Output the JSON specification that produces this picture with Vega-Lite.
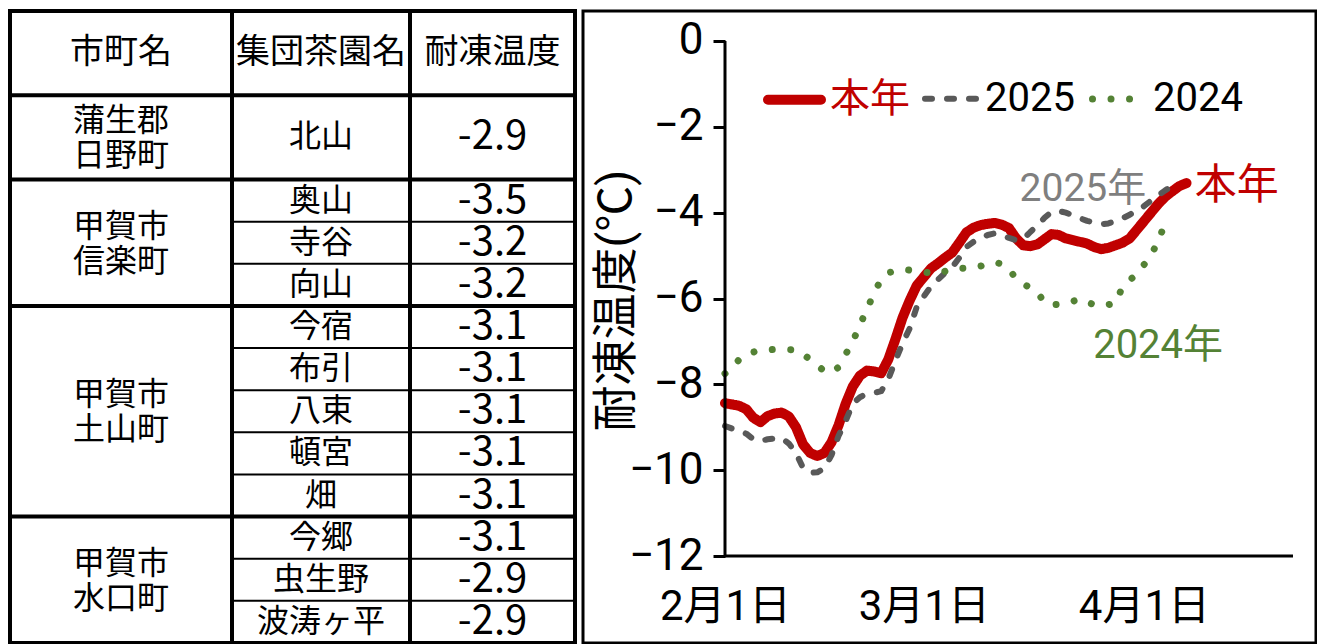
{
  "$schema": "https://vega.github.io/schema/vega-lite/v6.json",
  "padding": {"left": 6, "top": 7, "right": 0, "bottom": 0},
  "spacing": 2,
  "background": "white",
  "config": {
    "view": {"stroke": null},
    "axis": {"grid": false, "labelColor": "#000000", "tickColor": "#000000", "titleColor": "#000000"}
  },
  "datasets": {
    "table": [
      {"col": "市町名", "label": "市町名", "r0": 0, "r1": 2},
      {"col": "市町名", "label": "蒲生郡\n日野町", "r0": 2, "r1": 4},
      {"col": "市町名", "label": "甲賀市\n信楽町", "r0": 4, "r1": 7},
      {"col": "市町名", "label": "甲賀市\n土山町", "r0": 7, "r1": 12},
      {"col": "市町名", "label": "甲賀市\n水口町", "r0": 12, "r1": 15},
      {"col": "集団茶園名", "label": "集団茶園名", "r0": 0, "r1": 2},
      {"col": "集団茶園名", "label": "北山", "r0": 2, "r1": 4},
      {"col": "集団茶園名", "label": "奥山", "r0": 4, "r1": 5},
      {"col": "集団茶園名", "label": "寺谷", "r0": 5, "r1": 6},
      {"col": "集団茶園名", "label": "向山", "r0": 6, "r1": 7},
      {"col": "集団茶園名", "label": "今宿", "r0": 7, "r1": 8},
      {"col": "集団茶園名", "label": "布引", "r0": 8, "r1": 9},
      {"col": "集団茶園名", "label": "八束", "r0": 9, "r1": 10},
      {"col": "集団茶園名", "label": "頓宮", "r0": 10, "r1": 11},
      {"col": "集団茶園名", "label": "畑", "r0": 11, "r1": 12},
      {"col": "集団茶園名", "label": "今郷", "r0": 12, "r1": 13},
      {"col": "集団茶園名", "label": "虫生野", "r0": 13, "r1": 14},
      {"col": "集団茶園名", "label": "波涛ヶ平", "r0": 14, "r1": 15},
      {"col": "耐凍温度", "label": "耐凍温度", "r0": 0, "r1": 2},
      {"col": "耐凍温度", "label": "-2.9", "r0": 2, "r1": 4},
      {"col": "耐凍温度", "label": "-3.5", "r0": 4, "r1": 5},
      {"col": "耐凍温度", "label": "-3.2", "r0": 5, "r1": 6},
      {"col": "耐凍温度", "label": "-3.2", "r0": 6, "r1": 7},
      {"col": "耐凍温度", "label": "-3.1", "r0": 7, "r1": 8},
      {"col": "耐凍温度", "label": "-3.1", "r0": 8, "r1": 9},
      {"col": "耐凍温度", "label": "-3.1", "r0": 9, "r1": 10},
      {"col": "耐凍温度", "label": "-3.1", "r0": 10, "r1": 11},
      {"col": "耐凍温度", "label": "-3.1", "r0": 11, "r1": 12},
      {"col": "耐凍温度", "label": "-3.1", "r0": 12, "r1": 13},
      {"col": "耐凍温度", "label": "-2.9", "r0": 13, "r1": 14},
      {"col": "耐凍温度", "label": "-2.9", "r0": 14, "r1": 15}
    ],
    "lines": [
      {"series": "本年", "date": "2026-02-01T00:00", "value": -8.44},
      {"series": "本年", "date": "2026-02-02T00:00", "value": -8.47},
      {"series": "本年", "date": "2026-02-03T00:00", "value": -8.5},
      {"series": "本年", "date": "2026-02-04T00:00", "value": -8.58},
      {"series": "本年", "date": "2026-02-05T00:00", "value": -8.78},
      {"series": "本年", "date": "2026-02-06T00:00", "value": -8.88},
      {"series": "本年", "date": "2026-02-07T00:00", "value": -8.74},
      {"series": "本年", "date": "2026-02-08T00:00", "value": -8.68},
      {"series": "本年", "date": "2026-02-09T00:00", "value": -8.66},
      {"series": "本年", "date": "2026-02-10T00:00", "value": -8.75},
      {"series": "本年", "date": "2026-02-11T00:00", "value": -9.0},
      {"series": "本年", "date": "2026-02-12T00:00", "value": -9.4},
      {"series": "本年", "date": "2026-02-13T00:00", "value": -9.6},
      {"series": "本年", "date": "2026-02-14T00:00", "value": -9.67},
      {"series": "本年", "date": "2026-02-15T00:00", "value": -9.6},
      {"series": "本年", "date": "2026-02-16T00:00", "value": -9.35},
      {"series": "本年", "date": "2026-02-17T00:00", "value": -8.95},
      {"series": "本年", "date": "2026-02-18T00:00", "value": -8.45},
      {"series": "本年", "date": "2026-02-19T00:00", "value": -8.05},
      {"series": "本年", "date": "2026-02-20T00:00", "value": -7.8},
      {"series": "本年", "date": "2026-02-21T00:00", "value": -7.68},
      {"series": "本年", "date": "2026-02-22T00:00", "value": -7.7},
      {"series": "本年", "date": "2026-02-23T00:00", "value": -7.74},
      {"series": "本年", "date": "2026-02-24T00:00", "value": -7.42},
      {"series": "本年", "date": "2026-02-25T00:00", "value": -6.95},
      {"series": "本年", "date": "2026-02-26T00:00", "value": -6.45},
      {"series": "本年", "date": "2026-02-27T00:00", "value": -6.05},
      {"series": "本年", "date": "2026-02-28T00:00", "value": -5.7},
      {"series": "本年", "date": "2026-03-01T00:00", "value": -5.5},
      {"series": "本年", "date": "2026-03-02T00:00", "value": -5.3},
      {"series": "本年", "date": "2026-03-03T00:00", "value": -5.18},
      {"series": "本年", "date": "2026-03-04T00:00", "value": -5.05},
      {"series": "本年", "date": "2026-03-05T00:00", "value": -4.93},
      {"series": "本年", "date": "2026-03-06T00:00", "value": -4.7},
      {"series": "本年", "date": "2026-03-07T00:00", "value": -4.46},
      {"series": "本年", "date": "2026-03-08T00:00", "value": -4.35},
      {"series": "本年", "date": "2026-03-09T00:00", "value": -4.29},
      {"series": "本年", "date": "2026-03-10T00:00", "value": -4.26},
      {"series": "本年", "date": "2026-03-11T00:00", "value": -4.24},
      {"series": "本年", "date": "2026-03-12T00:00", "value": -4.28},
      {"series": "本年", "date": "2026-03-13T00:00", "value": -4.36},
      {"series": "本年", "date": "2026-03-14T00:00", "value": -4.6},
      {"series": "本年", "date": "2026-03-15T00:00", "value": -4.76},
      {"series": "本年", "date": "2026-03-16T00:00", "value": -4.78},
      {"series": "本年", "date": "2026-03-17T00:00", "value": -4.74},
      {"series": "本年", "date": "2026-03-18T00:00", "value": -4.62},
      {"series": "本年", "date": "2026-03-19T00:00", "value": -4.5},
      {"series": "本年", "date": "2026-03-20T00:00", "value": -4.52},
      {"series": "本年", "date": "2026-03-21T00:00", "value": -4.6},
      {"series": "本年", "date": "2026-03-22T00:00", "value": -4.64},
      {"series": "本年", "date": "2026-03-23T00:00", "value": -4.68},
      {"series": "本年", "date": "2026-03-24T00:00", "value": -4.72},
      {"series": "本年", "date": "2026-03-25T00:00", "value": -4.8},
      {"series": "本年", "date": "2026-03-26T00:00", "value": -4.85},
      {"series": "本年", "date": "2026-03-27T00:00", "value": -4.82},
      {"series": "本年", "date": "2026-03-28T00:00", "value": -4.76},
      {"series": "本年", "date": "2026-03-29T00:00", "value": -4.7},
      {"series": "本年", "date": "2026-03-30T00:00", "value": -4.6},
      {"series": "本年", "date": "2026-03-31T00:00", "value": -4.4},
      {"series": "本年", "date": "2026-04-01T00:00", "value": -4.2},
      {"series": "本年", "date": "2026-04-02T00:00", "value": -4.0},
      {"series": "本年", "date": "2026-04-03T00:00", "value": -3.8},
      {"series": "本年", "date": "2026-04-04T00:00", "value": -3.63},
      {"series": "本年", "date": "2026-04-05T00:00", "value": -3.5},
      {"series": "本年", "date": "2026-04-06T00:00", "value": -3.38},
      {"series": "本年", "date": "2026-04-07T00:00", "value": -3.31},
      {"series": "2025", "date": "2026-02-01T00:00", "value": -8.97},
      {"series": "2025", "date": "2026-02-02T00:00", "value": -9.03},
      {"series": "2025", "date": "2026-02-03T00:00", "value": -9.08},
      {"series": "2025", "date": "2026-02-04T00:00", "value": -9.15},
      {"series": "2025", "date": "2026-02-05T00:00", "value": -9.28},
      {"series": "2025", "date": "2026-02-06T00:00", "value": -9.32},
      {"series": "2025", "date": "2026-02-07T00:00", "value": -9.28},
      {"series": "2025", "date": "2026-02-08T00:00", "value": -9.26},
      {"series": "2025", "date": "2026-02-09T00:00", "value": -9.25},
      {"series": "2025", "date": "2026-02-10T00:00", "value": -9.38},
      {"series": "2025", "date": "2026-02-11T00:00", "value": -9.6},
      {"series": "2025", "date": "2026-02-12T00:00", "value": -9.95},
      {"series": "2025", "date": "2026-02-13T00:00", "value": -10.06},
      {"series": "2025", "date": "2026-02-14T00:00", "value": -10.05},
      {"series": "2025", "date": "2026-02-15T00:00", "value": -9.96},
      {"series": "2025", "date": "2026-02-16T00:00", "value": -9.65},
      {"series": "2025", "date": "2026-02-17T00:00", "value": -9.2},
      {"series": "2025", "date": "2026-02-18T00:00", "value": -8.85},
      {"series": "2025", "date": "2026-02-19T00:00", "value": -8.45},
      {"series": "2025", "date": "2026-02-20T00:00", "value": -8.3},
      {"series": "2025", "date": "2026-02-21T00:00", "value": -8.22},
      {"series": "2025", "date": "2026-02-22T00:00", "value": -8.2},
      {"series": "2025", "date": "2026-02-23T00:00", "value": -8.16},
      {"series": "2025", "date": "2026-02-24T00:00", "value": -7.88},
      {"series": "2025", "date": "2026-02-25T00:00", "value": -7.45},
      {"series": "2025", "date": "2026-02-26T00:00", "value": -7.05},
      {"series": "2025", "date": "2026-02-27T00:00", "value": -6.7},
      {"series": "2025", "date": "2026-02-28T00:00", "value": -6.2},
      {"series": "2025", "date": "2026-03-01T00:00", "value": -5.95},
      {"series": "2025", "date": "2026-03-02T00:00", "value": -5.72},
      {"series": "2025", "date": "2026-03-03T00:00", "value": -5.56},
      {"series": "2025", "date": "2026-03-04T00:00", "value": -5.4},
      {"series": "2025", "date": "2026-03-05T00:00", "value": -5.27},
      {"series": "2025", "date": "2026-03-06T00:00", "value": -5.05},
      {"series": "2025", "date": "2026-03-07T00:00", "value": -4.8},
      {"series": "2025", "date": "2026-03-08T00:00", "value": -4.68},
      {"series": "2025", "date": "2026-03-09T00:00", "value": -4.6},
      {"series": "2025", "date": "2026-03-10T00:00", "value": -4.52},
      {"series": "2025", "date": "2026-03-11T00:00", "value": -4.48},
      {"series": "2025", "date": "2026-03-12T00:00", "value": -4.53},
      {"series": "2025", "date": "2026-03-13T00:00", "value": -4.59},
      {"series": "2025", "date": "2026-03-14T00:00", "value": -4.64},
      {"series": "2025", "date": "2026-03-15T00:00", "value": -4.62},
      {"series": "2025", "date": "2026-03-16T00:00", "value": -4.45},
      {"series": "2025", "date": "2026-03-17T00:00", "value": -4.3},
      {"series": "2025", "date": "2026-03-18T00:00", "value": -4.12},
      {"series": "2025", "date": "2026-03-19T00:00", "value": -3.98},
      {"series": "2025", "date": "2026-03-20T00:00", "value": -3.96},
      {"series": "2025", "date": "2026-03-21T00:00", "value": -4.0},
      {"series": "2025", "date": "2026-03-22T00:00", "value": -4.06},
      {"series": "2025", "date": "2026-03-23T00:00", "value": -4.13},
      {"series": "2025", "date": "2026-03-24T00:00", "value": -4.19},
      {"series": "2025", "date": "2026-03-25T00:00", "value": -4.23},
      {"series": "2025", "date": "2026-03-26T00:00", "value": -4.27},
      {"series": "2025", "date": "2026-03-27T00:00", "value": -4.25},
      {"series": "2025", "date": "2026-03-28T00:00", "value": -4.2},
      {"series": "2025", "date": "2026-03-29T00:00", "value": -4.13},
      {"series": "2025", "date": "2026-03-30T00:00", "value": -4.05},
      {"series": "2025", "date": "2026-03-31T00:00", "value": -3.94},
      {"series": "2025", "date": "2026-04-01T00:00", "value": -3.85},
      {"series": "2025", "date": "2026-04-02T00:00", "value": -3.72},
      {"series": "2025", "date": "2026-04-03T00:00", "value": -3.6},
      {"series": "2025", "date": "2026-04-04T00:00", "value": -3.48},
      {"series": "2025", "date": "2026-04-05T00:00", "value": -3.38},
      {"series": "2025", "date": "2026-04-06T00:00", "value": -3.31},
      {"series": "2024", "date": "2026-02-01T00:00", "value": -7.75},
      {"series": "2024", "date": "2026-02-02T00:00", "value": -7.62},
      {"series": "2024", "date": "2026-02-03T00:00", "value": -7.42},
      {"series": "2024", "date": "2026-02-04T00:00", "value": -7.3},
      {"series": "2024", "date": "2026-02-06T00:00", "value": -7.2},
      {"series": "2024", "date": "2026-02-09T00:00", "value": -7.18},
      {"series": "2024", "date": "2026-02-11T00:00", "value": -7.2},
      {"series": "2024", "date": "2026-02-12T00:00", "value": -7.3},
      {"series": "2024", "date": "2026-02-13T00:00", "value": -7.42},
      {"series": "2024", "date": "2026-02-14T00:00", "value": -7.55},
      {"series": "2024", "date": "2026-02-15T00:00", "value": -7.7},
      {"series": "2024", "date": "2026-02-16T00:00", "value": -7.72},
      {"series": "2024", "date": "2026-02-17T00:00", "value": -7.6},
      {"series": "2024", "date": "2026-02-18T00:00", "value": -7.3},
      {"series": "2024", "date": "2026-02-19T00:00", "value": -7.0},
      {"series": "2024", "date": "2026-02-20T00:00", "value": -6.62},
      {"series": "2024", "date": "2026-02-21T00:00", "value": -6.25},
      {"series": "2024", "date": "2026-02-22T00:00", "value": -5.87},
      {"series": "2024", "date": "2026-02-23T00:00", "value": -5.55},
      {"series": "2024", "date": "2026-02-24T00:00", "value": -5.4},
      {"series": "2024", "date": "2026-02-26T00:00", "value": -5.32},
      {"series": "2024", "date": "2026-02-28T00:00", "value": -5.36},
      {"series": "2024", "date": "2026-03-03T00:00", "value": -5.43},
      {"series": "2024", "date": "2026-03-05T00:00", "value": -5.3},
      {"series": "2024", "date": "2026-03-08T00:00", "value": -5.29},
      {"series": "2024", "date": "2026-03-10T00:00", "value": -5.2},
      {"series": "2024", "date": "2026-03-11T00:00", "value": -5.15},
      {"series": "2024", "date": "2026-03-12T00:00", "value": -5.2},
      {"series": "2024", "date": "2026-03-13T00:00", "value": -5.3},
      {"series": "2024", "date": "2026-03-14T00:00", "value": -5.55},
      {"series": "2024", "date": "2026-03-15T00:00", "value": -5.66},
      {"series": "2024", "date": "2026-03-16T00:00", "value": -5.75},
      {"series": "2024", "date": "2026-03-17T00:00", "value": -5.85},
      {"series": "2024", "date": "2026-03-18T00:00", "value": -6.1},
      {"series": "2024", "date": "2026-03-19T00:00", "value": -6.15},
      {"series": "2024", "date": "2026-03-21T00:00", "value": -6.12},
      {"series": "2024", "date": "2026-03-23T00:00", "value": -6.01},
      {"series": "2024", "date": "2026-03-25T00:00", "value": -6.15},
      {"series": "2024", "date": "2026-03-26T00:00", "value": -6.18},
      {"series": "2024", "date": "2026-03-28T00:00", "value": -6.11},
      {"series": "2024", "date": "2026-03-29T00:00", "value": -5.72},
      {"series": "2024", "date": "2026-03-31T00:00", "value": -5.43},
      {"series": "2024", "date": "2026-04-02T00:00", "value": -5.0},
      {"series": "2024", "date": "2026-04-03T00:00", "value": -4.66},
      {"series": "2024", "date": "2026-04-04T00:00", "value": -4.25}
    ],
    "notes": [
      {"series": "2025", "label": "2025年", "date": "2026-03-23T10:00", "value": -3.45},
      {"series": "本年", "label": "本年", "date": "2026-04-14T02:00", "value": -3.38},
      {"series": "2024", "label": "2024年", "date": "2026-04-03T00:00", "value": -7.11}
    ]
  },
  "hconcat": [
    {
      "bounds": "flush",
      "spacing": 0,
      "hconcat": [
        {
          "width": 222,
          "height": 632,
          "view": {"stroke": "#000000", "strokeWidth": 4},
          "data": {"name": "table"},
          "layer": [
            {
              "transform": [{"filter": "datum.col === '市町名'"}],
              "mark": {"type": "rule", "color": "#000000", "strokeWidth": 4},
              "encoding": {"y": {"field": "r0", "type": "quantitative", "scale": {"domain": [0, 15], "reverse": true, "nice": false, "zero": false}, "axis": null}}
            },
            {
              "transform": [{"filter": "datum.col === '市町名' && datum.r0 === 0"}, {"fold": ["r0", "r1"], "as": ["edge", "pos"]}],
              "mark": {"type": "text", "font": "Noto Sans CJK JP", "fontSize": 34, "color": "#000000", "baseline": "middle", "align": "center"},
              "encoding": {
                "y": {"field": "pos", "aggregate": "mean", "type": "quantitative", "scale": {"domain": [0, 15], "reverse": true, "nice": false, "zero": false}, "axis": null},
                "text": {"field": "label", "type": "nominal"},
                "detail": {"field": "r0", "type": "quantitative"}
              }
            },
            {
              "transform": [{"filter": "datum.col === '市町名' && datum.r0 > 0"}, {"fold": ["r0", "r1"], "as": ["edge", "pos"]}],
              "mark": {"type": "text", "font": "Noto Sans CJK JP", "fontSize": 32, "lineHeight": 35, "lineBreak": "\n", "color": "#000000", "baseline": "middle", "align": "center", "dy": -16},
              "encoding": {
                "y": {"field": "pos", "aggregate": "mean", "type": "quantitative", "scale": {"domain": [0, 15], "reverse": true, "nice": false, "zero": false}, "axis": null},
                "text": {"field": "label", "type": "nominal"},
                "detail": {"field": "r0", "type": "quantitative"}
              }
            }
          ]
        },
        {
          "width": 178,
          "height": 632,
          "view": {"stroke": "#000000", "strokeWidth": 4},
          "data": {"name": "table"},
          "layer": [
            {
              "transform": [{"filter": "datum.col === '集団茶園名'"}],
              "mark": {"type": "rule", "color": "#000000", "strokeWidth": 2},
              "encoding": {"y": {"field": "r0", "type": "quantitative", "scale": {"domain": [0, 15], "reverse": true, "nice": false, "zero": false}, "axis": null}}
            },
            {
              "transform": [{"filter": "datum.col === '市町名'"}],
              "mark": {"type": "rule", "color": "#000000", "strokeWidth": 4},
              "encoding": {"y": {"field": "r0", "type": "quantitative", "scale": {"domain": [0, 15], "reverse": true, "nice": false, "zero": false}, "axis": null}}
            },
            {
              "transform": [{"filter": "datum.col === '集団茶園名' && datum.r0 === 0"}, {"fold": ["r0", "r1"], "as": ["edge", "pos"]}],
              "mark": {"type": "text", "font": "Noto Sans CJK JP", "fontSize": 34, "color": "#000000", "baseline": "middle", "align": "center"},
              "encoding": {
                "y": {"field": "pos", "aggregate": "mean", "type": "quantitative", "scale": {"domain": [0, 15], "reverse": true, "nice": false, "zero": false}, "axis": null},
                "text": {"field": "label", "type": "nominal"},
                "detail": {"field": "r0", "type": "quantitative"}
              }
            },
            {
              "transform": [{"filter": "datum.col === '集団茶園名' && datum.r0 > 0"}, {"fold": ["r0", "r1"], "as": ["edge", "pos"]}],
              "mark": {"type": "text", "font": "Noto Sans CJK JP", "fontSize": 32, "color": "#000000", "baseline": "middle", "align": "center"},
              "encoding": {
                "y": {"field": "pos", "aggregate": "mean", "type": "quantitative", "scale": {"domain": [0, 15], "reverse": true, "nice": false, "zero": false}, "axis": null},
                "text": {"field": "label", "type": "nominal"},
                "detail": {"field": "r0", "type": "quantitative"}
              }
            }
          ]
        },
        {
          "width": 165,
          "height": 632,
          "view": {"stroke": "#000000", "strokeWidth": 4},
          "data": {"name": "table"},
          "layer": [
            {
              "transform": [{"filter": "datum.col === '耐凍温度'"}],
              "mark": {"type": "rule", "color": "#000000", "strokeWidth": 2},
              "encoding": {"y": {"field": "r0", "type": "quantitative", "scale": {"domain": [0, 15], "reverse": true, "nice": false, "zero": false}, "axis": null}}
            },
            {
              "transform": [{"filter": "datum.col === '市町名'"}],
              "mark": {"type": "rule", "color": "#000000", "strokeWidth": 4},
              "encoding": {"y": {"field": "r0", "type": "quantitative", "scale": {"domain": [0, 15], "reverse": true, "nice": false, "zero": false}, "axis": null}}
            },
            {
              "transform": [{"filter": "datum.col === '耐凍温度' && datum.r0 === 0"}, {"fold": ["r0", "r1"], "as": ["edge", "pos"]}],
              "mark": {"type": "text", "font": "Noto Sans CJK JP", "fontSize": 34, "color": "#000000", "baseline": "middle", "align": "center"},
              "encoding": {
                "y": {"field": "pos", "aggregate": "mean", "type": "quantitative", "scale": {"domain": [0, 15], "reverse": true, "nice": false, "zero": false}, "axis": null},
                "text": {"field": "label", "type": "nominal"},
                "detail": {"field": "r0", "type": "quantitative"}
              }
            },
            {
              "transform": [{"filter": "datum.col === '耐凍温度' && datum.r0 > 0"}, {"fold": ["r0", "r1"], "as": ["edge", "pos"]}],
              "mark": {"type": "text", "font": "Noto Sans CJK JP", "fontSize": 40, "color": "#000000", "baseline": "middle", "align": "center"},
              "encoding": {
                "y": {"field": "pos", "aggregate": "mean", "type": "quantitative", "scale": {"domain": [0, 15], "reverse": true, "nice": false, "zero": false}, "axis": null},
                "text": {"field": "label", "type": "nominal"},
                "detail": {"field": "r0", "type": "quantitative"}
              }
            }
          ]
        }
      ]
    },
    {
      "width": 733,
      "height": 632,
      "view": {"stroke": "#000000", "strokeWidth": 3},
      "layer": [
        {
          "data": {"name": "lines"},
          "mark": {"type": "line", "strokeCap": "round", "strokeJoin": "round"},
          "encoding": {
            "x": {
              "field": "date", "type": "temporal",
              "scale": {"type": "time", "domain": [{"year": 2026, "month": 1, "date": 12}, {"year": 2026, "month": 4, "date": 25, "hours": 5, "minutes": 45}], "nice": false},
              "axis": {"title": null, "values": [{"year": 2026, "month": 2, "date": 1}, {"year": 2026, "month": 3, "date": 1}, {"year": 2026, "month": 4, "date": 1}], "format": "%-m月%-d日", "offset": -87, "domain": false, "ticks": false, "labelPadding": 30, "labelFont": "Roboto, Noto Sans CJK JP", "labelFontSize": 42, "labelColor": "#000000"}
            },
            "y": {
              "field": "value", "type": "quantitative",
              "scale": {"domain": [-14.027, 0.699], "nice": false, "zero": false},
              "axis": {"title": "耐凍温度(℃)", "values": [-12, -10, -8, -6, -4, -2, 0], "format": "d", "offset": -142, "domain": false, "tickSize": 12, "tickWidth": 3, "tickColor": "#000000", "labelPadding": 10, "labelFont": "Roboto, Noto Sans CJK JP", "labelFontSize": 44, "labelColor": "#000000", "titleFont": "Roboto, Noto Sans CJK JP", "titleFontSize": 46, "titleFontWeight": "normal", "titleColor": "#000000", "titleX": -109, "titleY": 289, "titleAngle": -90, "titleAlign": "center", "titleBaseline": "middle"}
            },
            "color": {
              "field": "series", "type": "nominal",
              "scale": {"domain": ["本年", "2025", "2024"], "range": ["#C00000", "#595959", "#548235"]},
              "legend": {"title": null, "orient": "none", "legendX": 753, "legendY": 57, "direction": "horizontal", "symbolType": "stroke", "symbolSize": 2809, "labelFont": "Roboto, Noto Sans CJK JP", "labelFontSize": 40, "labelOffset": 4, "columnPadding": 3, "padding": 0, "labelLimit": 0, "encoding": {"symbols": {"strokeCap": {"value": "round"}}, "labels": {"fill": {"condition": {"test": "datum.label === '本年'", "value": "#C00000"}, "value": "#000000"}}}}
            },
            "strokeDash": {
              "field": "series", "type": "nominal",
              "scale": {"domain": ["本年", "2025", "2024"], "range": [[1, 0], [7, 15], [0.01, 18.5]]},
              "legend": {"title": null, "orient": "none", "legendX": 753, "legendY": 57, "direction": "horizontal", "symbolType": "stroke", "symbolSize": 2809, "labelFont": "Roboto, Noto Sans CJK JP", "labelFontSize": 40, "labelOffset": 4, "columnPadding": 3, "padding": 0, "labelLimit": 0, "encoding": {"symbols": {"strokeCap": {"value": "round"}}, "labels": {"fill": {"condition": {"test": "datum.label === '本年'", "value": "#C00000"}, "value": "#000000"}}}}
            },
            "strokeWidth": {
              "field": "series", "type": "nominal",
              "scale": {"type": "ordinal", "domain": ["本年", "2025", "2024"], "range": [10, 6, 7]},
              "legend": {"title": null, "orient": "none", "legendX": 753, "legendY": 57, "direction": "horizontal", "symbolType": "stroke", "symbolSize": 2809, "labelFont": "Roboto, Noto Sans CJK JP", "labelFontSize": 40, "labelOffset": 4, "columnPadding": 3, "padding": 0, "labelLimit": 0, "encoding": {"symbols": {"strokeCap": {"value": "round"}}, "labels": {"fill": {"condition": {"test": "datum.label === '本年'", "value": "#C00000"}, "value": "#000000"}}}}
            }
          }
        },
        {
          "data": {"values": [{}]},
          "mark": {"type": "rule", "color": "#000000", "strokeWidth": 3},
          "encoding": {
            "x": {"datum": {"year": 2026, "month": 2, "date": 1}, "type": "temporal", "scale": {"type": "time", "domain": [{"year": 2026, "month": 1, "date": 12}, {"year": 2026, "month": 4, "date": 25, "hours": 5, "minutes": 45}], "nice": false}},
            "y": {"datum": -12, "type": "quantitative", "scale": {"domain": [-14.027, 0.699], "nice": false, "zero": false}},
            "y2": {"datum": 0}
          }
        },
        {
          "data": {"values": [{}]},
          "mark": {"type": "rule", "color": "#000000", "strokeWidth": 3},
          "encoding": {
            "x": {"datum": {"year": 2026, "month": 2, "date": 1}, "type": "temporal", "scale": {"type": "time", "domain": [{"year": 2026, "month": 1, "date": 12}, {"year": 2026, "month": 4, "date": 25, "hours": 5, "minutes": 45}], "nice": false}},
            "x2": {"datum": {"year": 2026, "month": 4, "date": 22}},
            "y": {"datum": -12, "type": "quantitative", "scale": {"domain": [-14.027, 0.699], "nice": false, "zero": false}}
          }
        },
        {
          "data": {"name": "notes"},
          "transform": [{"filter": "datum.series === '2025'"}],
          "mark": {"type": "text", "font": "Roboto, Noto Sans CJK JP", "fontSize": 39, "color": "#7F7F7F", "align": "center", "baseline": "middle"},
          "encoding": {
            "x": {"field": "date", "type": "temporal", "scale": {"type": "time", "domain": [{"year": 2026, "month": 1, "date": 12}, {"year": 2026, "month": 4, "date": 25, "hours": 5, "minutes": 45}], "nice": false}},
            "y": {"field": "value", "type": "quantitative", "scale": {"domain": [-14.027, 0.699], "nice": false, "zero": false}},
            "text": {"field": "label", "type": "nominal"}
          }
        },
        {
          "data": {"name": "notes"},
          "transform": [{"filter": "datum.series === '本年'"}],
          "mark": {"type": "text", "font": "Roboto, Noto Sans CJK JP", "fontSize": 42, "color": "#C00000", "align": "center", "baseline": "middle"},
          "encoding": {
            "x": {"field": "date", "type": "temporal", "scale": {"type": "time", "domain": [{"year": 2026, "month": 1, "date": 12}, {"year": 2026, "month": 4, "date": 25, "hours": 5, "minutes": 45}], "nice": false}},
            "y": {"field": "value", "type": "quantitative", "scale": {"domain": [-14.027, 0.699], "nice": false, "zero": false}},
            "text": {"field": "label", "type": "nominal"}
          }
        },
        {
          "data": {"name": "notes"},
          "transform": [{"filter": "datum.series === '2024'"}],
          "mark": {"type": "text", "font": "Roboto, Noto Sans CJK JP", "fontSize": 40, "color": "#548235", "align": "center", "baseline": "middle"},
          "encoding": {
            "x": {"field": "date", "type": "temporal", "scale": {"type": "time", "domain": [{"year": 2026, "month": 1, "date": 12}, {"year": 2026, "month": 4, "date": 25, "hours": 5, "minutes": 45}], "nice": false}},
            "y": {"field": "value", "type": "quantitative", "scale": {"domain": [-14.027, 0.699], "nice": false, "zero": false}},
            "text": {"field": "label", "type": "nominal"}
          }
        }
      ]
    }
  ]
}
